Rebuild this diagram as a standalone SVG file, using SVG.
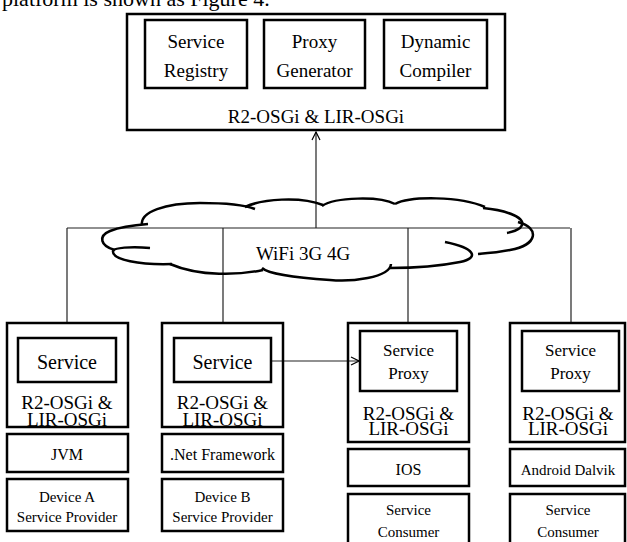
<svg xmlns="http://www.w3.org/2000/svg" width="627" height="542" viewBox="0 0 627 542">
<defs>
<style>
.t{font-family:"Liberation Serif","Times New Roman",serif;fill:#000;text-anchor:middle}
.box{fill:none;stroke:#000;stroke-width:2.5}
.ln{fill:none;stroke:#222;stroke-width:1.2}
.cl{fill:none;stroke:#000;stroke-width:2.5;stroke-linecap:butt}
</style>
<marker id="ah" markerWidth="10" markerHeight="10" refX="9" refY="5" orient="auto" markerUnits="userSpaceOnUse">
<path d="M1,1 L9,5 L1,9" fill="none" stroke="#000" stroke-width="1.2"/>
</marker>
</defs>
<rect width="627" height="542" fill="#fff"/>
<text class="t" x="2" y="6" font-size="22" style="text-anchor:start">platform is shown as Figure 4.</text>

<g id="server">
<rect class="box" x="127" y="14" width="378" height="116"/>
<text class="t" x="316" y="123" font-size="19">R2-OSGi &amp; LIR-OSGi</text>
</g>
<g id="service-registry">
<rect class="box" x="145" y="20" width="102" height="68"/>
<text class="t" x="196" y="48" font-size="19">Service</text>
<text class="t" x="196" y="77" font-size="19">Registry</text>
</g>
<g id="proxy-generator">
<rect class="box" x="264" y="20" width="101" height="68"/>
<text class="t" x="314.5" y="48" font-size="19">Proxy</text>
<text class="t" x="314.5" y="77" font-size="19">Generator</text>
</g>
<g id="dynamic-compiler">
<rect class="box" x="384" y="20" width="103" height="68"/>
<text class="t" x="435.5" y="48" font-size="19">Dynamic</text>
<text class="t" x="435.5" y="77" font-size="19">Compiler</text>
</g>

<g id="connectors">
<line class="ln" x1="67" y1="228" x2="570" y2="228"/>
<line class="ln" x1="67" y1="228" x2="67" y2="323"/>
<line class="ln" x1="223" y1="228" x2="223" y2="323"/>
<line class="ln" x1="408" y1="228" x2="408" y2="323"/>
<line class="ln" x1="571" y1="228" x2="571" y2="323"/>
<line class="ln" x1="316" y1="228" x2="316" y2="132" marker-end="url(#ah)"/>
<line class="ln" x1="271" y1="361" x2="359" y2="361" marker-end="url(#ah)"/>
</g>

<g id="cloud">
<path class="cl" d="M142,225 C140,212 165,203 200,203 C225,203 245,205 255,209"/>
<path class="cl" d="M245,207 C262,199 300,196 323,205"/>
<path class="cl" d="M322,206 C335,197 380,196 395,204"/>
<path class="cl" d="M395,204 C410,196 460,196 485,207"/>
<path class="cl" d="M483,208 C505,210 530,218 520,228 C516,231 512,232 507,233"/>
<path class="cl" d="M518,222 C540,228 538,245 510,250 C500,252 490,253 478,254"/>
<path class="cl" d="M445,242 C475,248 480,258 460,262 C440,266 410,268 390,268"/>
<path class="cl" d="M391,264 C390,278 350,282 330,280 C300,278 270,275 262,268"/>
<path class="cl" d="M263,270 C240,275 200,277 170,264"/>
<path class="cl" d="M172,264 C140,265 112,260 113,251 C114,248 130,246 150,248"/>
<path class="cl" d="M115,250 C100,246 98,236 110,231 C120,227 135,225 148,224"/>
<text class="t" x="303" y="260" font-size="19">WiFi 3G 4G</text>
</g>

<g id="device-a">
<rect class="box" x="7" y="323" width="121" height="104"/>
<rect class="box" x="18" y="338" width="98" height="44"/>
<text class="t" x="67" y="369" font-size="20">Service</text>
<text class="t" x="67" y="409" font-size="19">R2-OSGi &amp;</text>
<text class="t" x="67" y="426" font-size="19">LIR-OSGi</text>
</g>
<g id="jvm">
<rect class="box" x="7" y="434" width="121" height="38"/>
<text class="t" x="67" y="460" font-size="16">JVM</text>
</g>
<g id="device-a-provider">
<rect class="box" x="7" y="479" width="121" height="52"/>
<text class="t" x="67" y="502" font-size="15">Device A</text>
<text class="t" x="67" y="522" font-size="15">Service Provider</text>
</g>

<g id="device-b">
<rect class="box" x="162" y="323" width="121" height="104"/>
<rect class="box" x="174" y="338" width="97" height="44"/>
<text class="t" x="222.5" y="369" font-size="20">Service</text>
<text class="t" x="222.5" y="409" font-size="19">R2-OSGi &amp;</text>
<text class="t" x="222.5" y="426" font-size="19">LIR-OSGi</text>
</g>
<g id="net-framework">
<rect class="box" x="162" y="434" width="121" height="38"/>
<text class="t" x="222.5" y="460" font-size="16">.Net Framework</text>
</g>
<g id="device-b-provider">
<rect class="box" x="162" y="479" width="121" height="52"/>
<text class="t" x="222.5" y="502" font-size="15">Device B</text>
<text class="t" x="222.5" y="522" font-size="15">Service Provider</text>
</g>

<g id="device-c">
<rect class="box" x="348" y="323" width="121" height="119"/>
<rect class="box" x="360" y="331" width="97" height="60"/>
<text class="t" x="408.5" y="356" font-size="17">Service</text>
<text class="t" x="408.5" y="379" font-size="17">Proxy</text>
<text class="t" x="408.5" y="420" font-size="19">R2-OSGi &amp;</text>
<text class="t" x="408.5" y="435" font-size="19">LIR-OSGi</text>
</g>
<g id="ios">
<rect class="box" x="348" y="449" width="121" height="37"/>
<text class="t" x="408.5" y="475" font-size="16">IOS</text>
</g>
<g id="consumer-c">
<rect class="box" x="348" y="494" width="121" height="60"/>
<text class="t" x="408.5" y="515" font-size="15">Service</text>
<text class="t" x="408.5" y="537" font-size="15">Consumer</text>
</g>

<g id="device-d">
<rect class="box" x="510" y="323" width="115" height="119"/>
<rect class="box" x="522" y="331" width="97" height="60"/>
<text class="t" x="570.5" y="356" font-size="17">Service</text>
<text class="t" x="570.5" y="379" font-size="17">Proxy</text>
<text class="t" x="568" y="420" font-size="19">R2-OSGi &amp;</text>
<text class="t" x="568" y="435" font-size="19">LIR-OSGi</text>
</g>
<g id="android">
<rect class="box" x="510" y="449" width="115" height="37"/>
<text class="t" x="568" y="475" font-size="15">Android Dalvik</text>
</g>
<g id="consumer-d">
<rect class="box" x="510" y="494" width="115" height="60"/>
<text class="t" x="568" y="515" font-size="15">Service</text>
<text class="t" x="568" y="537" font-size="15">Consumer</text>
</g>
</svg>
